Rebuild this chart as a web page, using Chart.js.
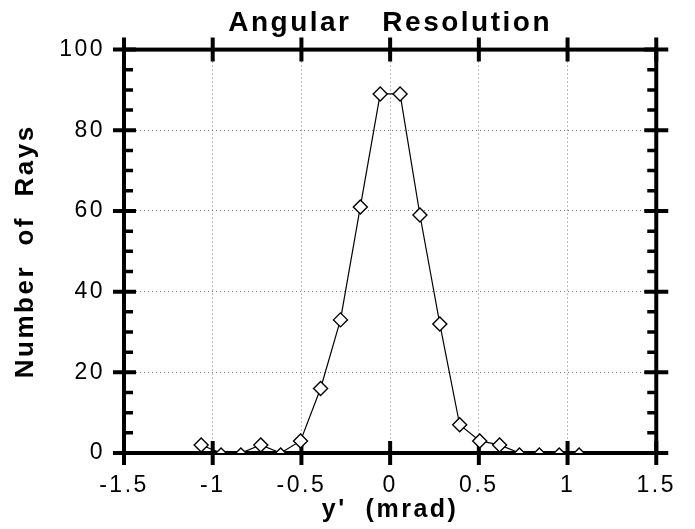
<!DOCTYPE html>
<html lang="en">
<head>
  <meta charset="UTF-8">
  <title>Angular Resolution</title>
  <style>
    html, body { margin: 0; padding: 0; background: #ffffff; }
    #wrap { width: 695px; height: 529px; }
  </style>
</head>
<body>
  <div id="wrap"><canvas id="resChart" width="695" height="529"></canvas></div>

  <script src="https://cdn.jsdelivr.net/npm/chart.js"></script>
  <script>
    // y' bin centres (mrad) and number of rays in each bin
    const yPrime = [-1.065, -0.953, -0.841, -0.729, -0.617, -0.505, -0.392, -0.280, -0.168, -0.056,
                    0.056, 0.168, 0.280, 0.392, 0.505, 0.617, 0.729, 0.841, 0.953, 1.065];
    const rays = [2, 0, 0, 2, 0, 3, 16, 33, 61, 89,
                  89, 59, 32, 7, 3, 2, 0, 0, 0, 0];
    const xTicks = [-1.5, -1, -0.5, 0, 0.5, 1, 1.5];
    const yTicks = [0, 20, 40, 60, 80, 100];
    const yMinor = [5, 10, 15, 25, 30, 35, 45, 50, 55, 65, 70, 75, 85, 90, 95];

    const family = "'Liberation Sans', Arial, sans-serif";
    const labelFont = { family, size: 23 };

    // the old plot is typeset with loose letter spacing
    const spacing = {
      id: 'spacing',
      beforeUpdate(chart) { chart.ctx.letterSpacing = '2.5px'; },
      beforeDraw(chart) { chart.ctx.letterSpacing = '2.5px'; }
    };

    // heavy frame with crossing major ticks and inward minor ticks
    const frame = {
      id: 'frame',
      beforeDatasetsDraw(chart) {
        const { ctx, chartArea: a, scales: { x, y } } = chart;
        ctx.save();
        ctx.strokeStyle = '#000';
        ctx.lineWidth = 4;
        ctx.strokeRect(a.left, a.top, a.right - a.left, a.bottom - a.top);
        xTicks.forEach(v => {
          const px = x.getPixelForValue(v);
          ctx.beginPath();
          ctx.moveTo(px, a.bottom - 12); ctx.lineTo(px, a.bottom + 12);
          ctx.moveTo(px, a.top - 12); ctx.lineTo(px, a.top + 12);
          ctx.stroke();
        });
        yTicks.forEach(v => {
          const py = y.getPixelForValue(v);
          ctx.beginPath();
          ctx.moveTo(a.left - 11, py); ctx.lineTo(a.left + 12, py);
          ctx.moveTo(a.right - 12, py); ctx.lineTo(a.right + 12, py);
          ctx.stroke();
        });
        ctx.lineWidth = 3.5;
        yMinor.forEach(v => {
          const py = y.getPixelForValue(v);
          ctx.beginPath();
          ctx.moveTo(a.left, py); ctx.lineTo(a.left + 9, py);
          ctx.moveTo(a.right - 9, py); ctx.lineTo(a.right, py);
          ctx.stroke();
        });
        ctx.restore();
      }
    };

    new Chart(document.getElementById('resChart'), {
      type: 'scatter',
      data: {
        datasets: [{
          data: yPrime.map((v, i) => ({ x: v, y: rays[i] })),
          showLine: true,
          borderColor: '#000',
          borderWidth: 1.2,
          pointStyle: 'rectRot',
          pointRadius: c => (c.raw && c.raw.y === 0 ? 5 : 7),
          pointBackgroundColor: '#fff',
          pointBorderColor: '#000',
          pointBorderWidth: 1.4
        }]
      },
      options: {
        responsive: false,
        animation: false,
        layout: { padding: { left: 0, right: 31, top: 0, bottom: 0 } },
        plugins: {
          legend: { display: false },
          tooltip: { enabled: false },
          title: {
            display: true,
            text: 'Angular   Resolution',
            fullSize: false,
            color: '#000',
            font: { family, size: 28, weight: 'bold' },
            padding: { top: 6, bottom: 10 }
          }
        },
        scales: {
          x: {
            type: 'linear',
            min: -1.5, max: 1.5,
            afterFit: s => { s.height = 76; },
            afterBuildTicks: s => { s.ticks = xTicks.map(v => ({ value: v })); },
            grid: { color: '#777', lineWidth: 1, drawTicks: false },
            border: { display: false, dash: [1, 3] },
            ticks: { color: '#000', font: labelFont, padding: 19, maxRotation: 0, callback: v => String(v) },
            title: {
              display: true, text: "y'  (mrad)", color: '#000',
              font: { family, size: 25, weight: 'bold' },
              padding: { top: 0, bottom: 4 }
            }
          },
          y: {
            min: 0, max: 100,
            afterFit: s => { s.width = 124; },
            afterBuildTicks: s => { s.ticks = yTicks.map(v => ({ value: v })); },
            grid: { color: '#777', lineWidth: 1, drawTicks: false },
            border: { display: false, dash: [1, 3] },
            ticks: { color: '#000', font: labelFont, padding: 19, callback: v => String(v) },
            title: {
              display: true, text: 'Number  of  Rays', color: '#000',
              font: { family, size: 26, weight: 'bold' },
              padding: { top: 10, bottom: 0 }
            }
          }
        }
      },
      plugins: [spacing, frame]
    });
  </script>
</body>
</html>
